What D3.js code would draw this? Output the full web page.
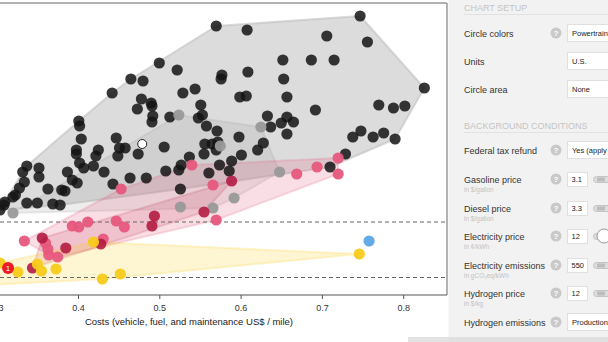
<!DOCTYPE html>
<html><head><meta charset="utf-8">
<script src="https://cdn.jsdelivr.net/npm/d3@7"></script>
<style>body{margin:0;background:#fff;} svg{display:block;font-family:"Liberation Sans",Arial,sans-serif;}</style>
</head><body><svg id="c" width="608" height="342"></svg>
<script>
// ---- data: [cost US$/mile, emissions gCO2eq/mile] ----
const xTicks = [0.3, 0.4, 0.5, 0.6, 0.7, 0.8];
const targets = [146, 35];
const xTitle = "Costs (vehicle, fuel, and maintenance US$ / mile)";
const icev = [[0.570,538],[0.747,558],[0.608,530],[0.706,518],[0.756,506],[0.500,464],[0.522,450],[0.652,470],[0.687,470],[0.715,470],
[0.609,446],[0.577,440],[0.576,432],[0.465,432],[0.480,428],[0.653,432],[0.826,414],[0.544,412],[0.442,404],[0.529,404],
[0.599,396],[0.607,398],[0.657,396],[0.478,392],[0.490,384],[0.491,378],[0.551,380],[0.770,380],[0.788,374],[0.802,378],
[0.473,372],[0.692,370],[0.492,358],[0.491,346],[0.513,356],[0.553,360],[0.548,354],[0.633,358],[0.558,338],[0.637,336],
[0.650,344],[0.657,356],[0.665,346],[0.401,348],[0.402,338],[0.571,328],[0.657,322],[0.748,328],[0.738,316],[0.763,316],
[0.776,324],[0.790,312],[0.404,312],[0.447,314],[0.598,316],[0.628,304],[0.621,290],[0.556,302],[0.565,302],[0.572,306],
[0.506,296],[0.451,294],[0.458,294],[0.398,290],[0.398,282],[0.425,290],[0.422,278],[0.449,278],[0.474,282],[0.537,276],
[0.555,282],[0.570,290],[0.601,280],[0.589,268],[0.729,282],[0.710,256],[0.527,260],[0.524,250],[0.574,260],[0.586,248],
[0.561,244],[0.508,248],[0.484,234],[0.464,234],[0.443,222],[0.432,246],[0.419,258],[0.407,254],[0.402,264],[0.387,246],
[0.393,230],[0.399,224],[0.380,210],[0.384,208],[0.363,212],[0.369,182],[0.378,180],[0.350,184],[0.337,184],[0.332,246],
[0.337,258],[0.352,254],[0.352,236],[0.334,226],[0.328,214],[0.323,200],[0.320,196],[0.310,186],[0.309,180],[0.304,170],
[0.526,212]];
const hev = [[0.524,360],[0.625,336],[0.575,298],[0.320,164],[0.526,176],[0.566,174],[0.592,194],[0.648,246]];
const phev = [[0.540,260],[0.453,212],[0.566,220],[0.570,150],[0.412,146],[0.393,138],[0.401,136],[0.447,148],[0.457,136],[0.334,108],
[0.360,104],[0.363,92],[0.364,80],[0.375,76],[0.431,112],[0.669,242],[0.694,256],[0.720,274],[0.720,242]];
const erev = [[0.494,158],[0.491,138],[0.356,114],[0.385,94],[0.428,102],[0.344,54],[0.555,166],[0.589,228]];
const bev = [[0.419,106],[0.304,64],[0.326,46],[0.350,62],[0.355,48],[0.373,52],[0.430,32],[0.452,42],[0.746,82],[0.290,20]];
const fcev = [[0.758,108]];
const selected = [[0.314,54,"1"]];
const hovered = [[0.479,302]];

// panel content
const sections = [["CHART SETUP",11,14],["BACKGROUND CONDITIONS",129,132]];
const rows = [
 {label:"Circle colors",cy:33,help:true,kind:"select",value:"Powertrain"},
 {label:"Units",cy:61,help:false,kind:"select",value:"U.S."},
 {label:"Circle area",cy:89,help:false,kind:"select",value:"None"},
 {label:"Federal tax refund",cy:150,help:true,kind:"select",value:"Yes (apply"},
 {label:"Gasoline price",sub:"in $/gallon",cy:179,help:true,kind:"input",value:"3.1",knob:false},
 {label:"Diesel price",sub:"in $/gallon",cy:208,help:true,kind:"input",value:"3.3",knob:false},
 {label:"Electricity price",sub:"in ¢/kWh",cy:236,help:true,kind:"input",value:"12",knob:true},
 {label:"Electricity emissions",sub:"in gCO₂eq/kWh",cy:265,help:true,kind:"input",value:"550",knob:false},
 {label:"Hydrogen price",sub:"in $/kg",cy:293,help:true,kind:"input",value:"12",knob:false},
 {label:"Hydrogen emissions",cy:322,help:true,kind:"select",value:"Production"}
];

const svg = d3.select("#c");
const x = d3.scaleLinear().domain([0.3,0.8]).range([-3.3,403.2]);
const y = d3.scaleLinear().domain([0,584]).range([295,3]);
const plotR = 447, plotT = 3, plotB = 295;

const clip = svg.append("defs").append("clipPath").attr("id","pc");
clip.append("rect").attr("x",0).attr("y",plotT).attr("width",plotR).attr("height",plotB-plotT);
const plot = svg.append("g").attr("clip-path","url(#pc)");

// hulls
function hull(data, fill, op){
  const pts = d3.polygonHull(data.map(d=>[x(d[0]),y(d[1])]));
  if(!pts) return;
  plot.append("path").attr("d","M"+pts.join("L")+"Z").attr("fill",fill).attr("fill-opacity",op)
    .attr("stroke",fill).attr("stroke-opacity",op).attr("stroke-width",2).attr("stroke-linejoin","round");
}
hull(icev,"#bababa",0.5);
hull(hev,"#9a9a9a",0.18);
hull(phev,"#e85a7f",0.2);
hull(erev,"#b41e41",0.14);
hull(bev,"#f8cc1e",0.2);

// target lines
plot.selectAll(".tgt").data(targets).enter().append("line")
  .attr("x1",0).attr("x2",plotR).attr("y1",d=>y(d)).attr("y2",d=>y(d))
  .attr("stroke","#666").attr("stroke-width",1).attr("stroke-dasharray","4,3");

// frame
svg.append("line").attr("x1",0).attr("x2",plotR).attr("y1",plotT).attr("y2",plotT).attr("stroke","#999").attr("stroke-width",1.5);
svg.append("line").attr("x1",plotR).attr("x2",plotR).attr("y1",plotT).attr("y2",plotB).attr("stroke","#999").attr("stroke-width",1.5);

// axis
const ax = svg.append("g").attr("transform",`translate(0,${plotB})`)
  .call(d3.axisBottom(x).tickValues(xTicks).tickSize(4).tickSizeOuter(0).tickFormat(d3.format(".1f")));
ax.select(".domain").attr("stroke","#555").attr("d",`M0,0H${plotR}`);
ax.selectAll(".tick line").attr("stroke","#555");
ax.selectAll("text").attr("fill","#333").style("font-size","9px").style("font-family","Liberation Sans, Arial").attr("dy","1em");
svg.append("text").attr("x",189).attr("y",325).attr("text-anchor","middle").attr("fill","#222")
  .style("font-size","9.5px").text(xTitle);

// dots
const R = 5.6;
function dots(data, fill, op, stroke, r){
  plot.append("g").selectAll("circle").data(data).enter().append("circle")
    .attr("cx",d=>x(d[0])).attr("cy",d=>y(d[1])).attr("r",r||R)
    .attr("fill",fill).attr("fill-opacity",op).attr("stroke",stroke||"none").attr("stroke-width",1);
}
dots(icev,"#141414",0.85);
dots(hev,"#999",0.95);
dots(phev,"#e6587d",0.95);
dots(erev,"#b31c43",0.9);
dots(bev,"#f8cb1a",0.95);
dots(fcev,"#62abe6",1);
dots(hovered,"#fff",1,"#222",4.5);
dots(selected,"#ec1c24",1,null,6);
plot.selectAll(".sel").data(selected).enter().append("text")
  .attr("x",d=>x(d[0])).attr("y",d=>y(d[1])+3).attr("text-anchor","middle").attr("fill","#fff")
  .style("font-size","8px").text(d=>d[2]);

// bottom band
svg.append("rect").attr("x",408).attr("y",337).attr("width",200).attr("height",5).attr("fill","#e3e3e3");

// panel
const P = svg.append("g");
P.append("rect").attr("x",448.5).attr("y",0).attr("width",160).attr("height",337).attr("fill","#f2f2f2");
P.append("rect").attr("x",448.5).attr("y",337).attr("width",160).attr("height",5).attr("fill","#e0e0e0");
sections.forEach(s=>{
  P.append("text").attr("x",464).attr("y",s[1]).attr("fill","#c4c4c4").style("font-size","9px").text(s[0]);
  P.append("line").attr("x1",464).attr("x2",608).attr("y1",s[2]+0.5).attr("y2",s[2]+0.5).attr("stroke","#e2e2e2");
});
rows.forEach(r=>{
  P.append("text").attr("x",464).attr("y",r.cy+3.5).attr("fill","#333").style("font-size","9px").text(r.label);
  if(r.sub) P.append("text").attr("x",464).attr("y",r.cy+12.5).attr("fill","#c2c2c2").style("font-size","6.5px").text(r.sub);
  if(r.help){
    P.append("circle").attr("cx",556).attr("cy",r.cy).attr("r",5.5).attr("fill","#c9c9c9");
    P.append("text").attr("x",556).attr("y",r.cy+3).attr("text-anchor","middle").attr("fill","#fff")
      .style("font-size","8px").style("font-weight","bold").text("?");
  }
  if(r.kind==="select"){
    P.append("rect").attr("x",567.5).attr("y",r.cy-8.5).attr("width",60).attr("height",17).attr("fill","#fff").attr("stroke","#e0e0e0");
    P.append("text").attr("x",572).attr("y",r.cy+3).attr("fill","#222").style("font-size","7.5px").text(r.value);
  } else {
    P.append("rect").attr("x",567.5).attr("y",r.cy-6.5).attr("width",20).attr("height",14).attr("fill","#fff").attr("stroke","#e0e0e0");
    P.append("text").attr("x",571.5).attr("y",r.cy+3).attr("fill","#222").style("font-size","7.5px").text(r.value);
    P.append("rect").attr("x",593.5).attr("y",r.cy-2.5).attr("width",20).attr("height",6).attr("rx",3).attr("fill","#ddd").attr("stroke","#c4c4c4");
    P.append("rect").attr("x",597).attr("y",r.cy-1.5).attr("width",8).attr("height",4).attr("fill","#bdbdbd");
    if(r.knob) P.append("circle").attr("cx",604).attr("cy",r.cy).attr("r",7).attr("fill","#fff").attr("stroke","#9a9a9a");
  }
});
</script></body></html>
